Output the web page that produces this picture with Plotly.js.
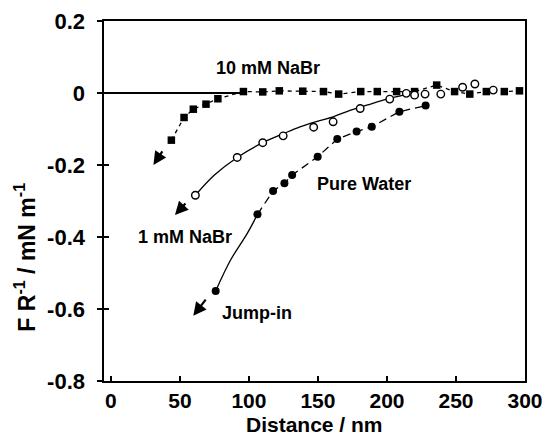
<!DOCTYPE html>
<html>
<head>
<meta charset="utf-8">
<script src="https://cdn.plot.ly/plotly-3.0.1.min.js"></script>
<style>html,body{margin:0;padding:0;background:#fff;}</style>
</head>
<body>
<div id="chart" style="width:551px;height:445px;"></div>
<script>
// ---- data ----
// 10 mM NaBr (filled squares)
var tenX = [43.8, 53, 59.7, 68.9, 77.5, 96, 110, 122, 139, 154, 165, 181, 193, 207, 220, 236, 249, 260, 272, 285, 296];
var tenY = [-0.131, -0.068, -0.045, -0.031, -0.016, 0.004, 0.003, 0.006, 0.005, 0.004, -0.003, 0.004, 0.004, 0.004, 0.004, 0.022, 0.004, -0.003, 0.004, 0.004, 0.006];
// 1 mM NaBr (open circles)
var oneX = [61.2, 91.5, 110, 124.8, 146.9, 161, 180.6, 202, 214, 220, 227.6, 239, 254.8, 263.7, 277];
var oneY = [-0.284, -0.179, -0.138, -0.119, -0.095, -0.080, -0.043, -0.017, -0.001, -0.006, -0.003, -0.003, 0.016, 0.025, 0.008];
// 1 mM NaBr fitted solid curve
var oneFitX = [61.2, 75, 91.5, 110, 125, 137, 150, 161, 175, 186, 202, 212];
var oneFitY = [-0.284, -0.228, -0.179, -0.138, -0.113, -0.094, -0.078, -0.066, -0.046, -0.033, -0.015, -0.006];
// Pure water (filled circles)
var pwX = [75.9, 106.2, 117.5, 125.7, 131.3, 149.8, 164, 178, 189, 209, 228];
var pwY = [-0.55, -0.337, -0.272, -0.251, -0.228, -0.177, -0.128, -0.107, -0.094, -0.052, -0.035];
// Pure water solid jump-in segment
var pwFitX = [75.9, 86.7, 98.8, 106.2];
var pwFitY = [-0.55, -0.464, -0.39, -0.337];
// zero reference line
var zeroX = [-5, 96];
var zeroY = [0, 0];
// axis ticks
var xTickVals = [0, 50, 100, 150, 200, 250, 300];
var xTickText = ['0', '50', '100', '150', '200', '250', '300'];
var yTickVals = [0.2, 0, -0.2, -0.4, -0.6, -0.8];
var yTickText = ['0.2', '0', '-0.2', '-0.4', '-0.6', '-0.8'];
// text labels
var labelX = [114, 53.5, 183, 106];
var labelY = [0.069, -0.399, -0.253, -0.611];
var labelText = ['10 mM NaBr', '1 mM NaBr', 'Pure Water', 'Jump-in'];
var xTitle = 'Distance / nm';
var yTitle = 'F R<sup>-1</sup> / mN m<sup>-1</sup>';
// arrows: tail -> tip
var arrowTailX = [38, 55, 69.5];
var arrowTailY = [-0.158, -0.303, -0.57];
var arrowTipX = [30.8, 46.4, 59.7];
var arrowTipY = [-0.2, -0.339, -0.619];

var FONT = 'Liberation Sans, Arial, Helvetica, sans-serif';

var traces = [
  {x: zeroX, y: zeroY, mode: 'lines', line: {color: 'black', width: 2.2}, hoverinfo: 'skip'},
  {x: tenX, y: tenY, mode: 'lines+markers', line: {color: 'black', width: 1.3, dash: '4px,4px'},
   marker: {symbol: 'square', size: 7.5, color: 'black'}},
  {x: oneFitX, y: oneFitY, mode: 'lines', line: {color: 'black', width: 1.3, shape: 'spline'}},
  {x: oneX, y: oneY, mode: 'markers',
   marker: {symbol: 'circle', size: 7.5, color: 'white', line: {color: 'black', width: 1.4}}},
  {x: pwFitX, y: pwFitY, mode: 'lines', line: {color: 'black', width: 1.3, shape: 'spline'}},
  {x: pwX.slice(1), y: pwY.slice(1), mode: 'lines', line: {color: 'black', width: 1.3, dash: '8px,5px'}},
  {x: pwX, y: pwY, mode: 'markers', marker: {symbol: 'circle', size: 8, color: 'black'}},
  {x: [0], y: [0], yaxis: 'y2', mode: 'markers', marker: {opacity: 0}, hoverinfo: 'skip'}
];

var annotations = [];
for (var i = 0; i < labelText.length; i++) {
  annotations.push({x: labelX[i], y: labelY[i], xref: 'x', yref: 'y', text: labelText[i],
    showarrow: false, font: {family: FONT, size: 18, color: 'black', weight: 'bold'}});
}
for (var j = 0; j < arrowTipX.length; j++) {
  annotations.push({x: arrowTipX[j], y: arrowTipY[j], ax: arrowTailX[j], ay: arrowTailY[j],
    xref: 'x', yref: 'y', axref: 'x', ayref: 'y', text: '', showarrow: true,
    arrowhead: 2, arrowsize: 1.2, arrowwidth: 2.2, arrowcolor: 'black'});
}
// axis titles placed as in the reference
annotations.push({xref: 'paper', yref: 'paper', x: -0.188, y: 0.345, xanchor: 'center', yanchor: 'middle',
  textangle: -90, text: yTitle, showarrow: false,
  font: {family: FONT, size: 23, color: 'black', weight: 'bold'}});
annotations.push({xref: 'paper', yref: 'paper', x: 0.5, y: -0.121, xanchor: 'center', yanchor: 'middle',
  text: xTitle, showarrow: false,
  font: {family: FONT, size: 21, color: 'black', weight: 'bold'}});

var layout = {
  width: 551, height: 445,
  margin: {l: 104, r: 26, t: 21, b: 64},
  paper_bgcolor: 'white', plot_bgcolor: 'white',
  showlegend: false,
  font: {family: FONT, color: 'black'},
  xaxis: {
    range: [-5, 300], tickvals: xTickVals, ticktext: xTickText,
    ticks: 'inside', ticklen: 5, tickwidth: 1.3, tickcolor: 'black',
    showline: true, mirror: true, linecolor: 'black', linewidth: 1.6,
    showgrid: false, zeroline: false,
    tickfont: {size: 21, family: FONT, color: 'black', weight: 'bold'}
  },
  yaxis: {
    range: [-0.8, 0.2], tickvals: yTickVals, ticktext: yTickText,
    ticks: 'outside', ticklen: 5, tickwidth: 1.3, tickcolor: 'black',
    showline: true, mirror: true, linecolor: 'black', linewidth: 1.6,
    showgrid: false, zeroline: false, ticklabelstandoff: 8,
    tickfont: {size: 22, family: FONT, color: 'black', weight: 'bold'}
  },
  yaxis2: {
    overlaying: 'y', anchor: 'x', side: 'left', range: [-0.8, 0.2], tickvals: yTickVals,
    ticks: 'inside', ticklen: 5, tickwidth: 1.3, tickcolor: 'black',
    showticklabels: false, showline: false, showgrid: false, zeroline: false
  },
  annotations: annotations
};

Plotly.newPlot('chart', traces, layout, {staticPlot: true, displayModeBar: false});
</script>
</body>
</html>
